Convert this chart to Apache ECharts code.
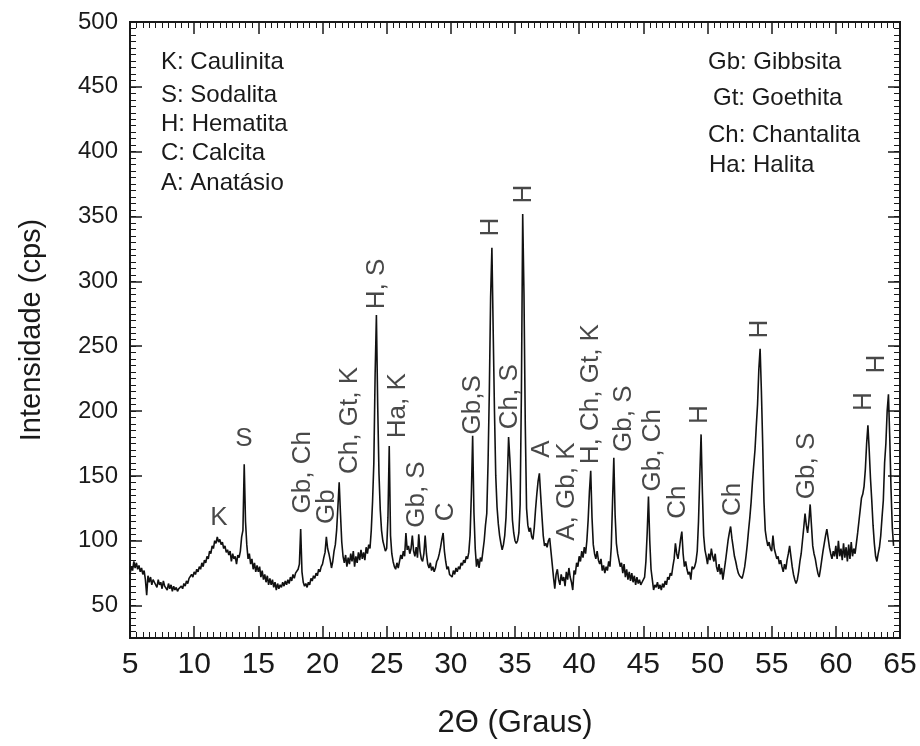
<!DOCTYPE html>
<html>
<head>
<meta charset="utf-8">
<script src="https://cdn.jsdelivr.net/npm/echarts@6/dist/echarts.min.js"></script>
<style>
  html, body { margin: 0; padding: 0; background: #ffffff; }
  #chart { width: 920px; height: 746px; }
</style>
</head>
<body>
<div id="chart"></div>
<script>
// X-ray diffraction pattern, sampled every 0.1 degree (2-theta) from 5.0
const angleStart = 5.0;
const angleStep = 0.1;

// Intensity (cps); one row per degree of 2-theta
const intensity = [
  74, 80, 77, 84, 79, 83, 78, 81, 76, 79,          // 5
  74, 77, 70, 58, 73, 68, 72, 66, 70, 68,          // 6
  69, 64, 70, 66, 68, 63, 69, 65, 66, 62,          // 7
  67, 63, 66, 61, 65, 62, 64, 61, 63, 62,          // 8
  65, 63, 67, 65, 69, 67, 71, 70, 74, 72,          // 9
  76, 74, 78, 76, 80, 78, 83, 80, 85, 83,          // 10
  88, 86, 92, 90, 96, 94, 100, 98, 103, 99,        // 11
  101, 97, 99, 94, 96, 91, 93, 89, 92, 84,         // 12
  90, 86, 88, 82, 89, 87, 92, 103, 108, 159,       // 13
  115, 97, 86, 90, 82, 86, 78, 83, 76, 81,         // 14
  76, 80, 72, 77, 70, 74, 68, 73, 66, 71,          // 15
  66, 70, 64, 68, 62, 67, 63, 66, 64, 68,          // 16
  65, 69, 66, 70, 67, 72, 69, 74, 71, 75,          // 17
  74, 78, 82, 109, 76, 68, 65, 67, 64, 68,         // 18
  66, 71, 69, 73, 71, 75, 73, 78, 76, 80,          // 19
  82, 87, 91, 103, 94, 90, 85, 79, 84, 92,         // 20
  97, 108, 126, 145, 121, 99, 88, 83, 89, 80,      // 21
  87, 82, 90, 84, 92, 80, 88, 83, 91, 85,          // 22
  93, 86, 91, 85, 95, 90, 97, 94, 108, 130,        // 23
  160, 228, 274, 205, 152, 124, 108, 100, 96, 92,  // 24
  94, 118, 173, 104, 90, 84, 80, 78, 83, 79,       // 25
  84, 89, 86, 92, 88, 106, 93, 96, 90, 94,         // 26
  104, 92, 88, 95, 87, 105, 92, 86, 84, 90,        // 27
  104, 90, 82, 79, 83, 77, 80, 76, 79, 84,         // 28
  86, 90, 95, 101, 106, 92, 84, 78, 80, 74,        // 29
  75, 72, 77, 74, 79, 76, 80, 78, 83, 81,          // 30
  85, 83, 88, 86, 91, 104, 136, 181, 122, 94,      // 31
  80, 86, 79, 87, 84, 92, 100, 112, 121, 160,      // 32
  215, 288, 326, 262, 200, 150, 126, 113, 104, 98, // 33
  93, 97, 104, 118, 146, 180, 163, 142, 116, 106,  // 34
  100, 98, 100, 106, 128, 215, 352, 290, 190, 125, // 35
  112, 107, 110, 103, 101, 110, 124, 136, 146, 152,// 36
  135, 119, 104, 96, 98, 95, 100, 102, 92, 82,     // 37
  72, 63, 74, 78, 70, 66, 74, 69, 72, 65,          // 38
  76, 70, 79, 72, 68, 62, 77, 74, 83, 80,          // 39
  88, 84, 92, 87, 95, 90, 100, 116, 138, 154,      // 40
  118, 97, 90, 86, 92, 85, 82, 86, 77, 81,         // 41
  75, 80, 77, 84, 80, 95, 130, 164, 120, 98,       // 42
  90, 85, 80, 83, 75, 82, 72, 78, 70, 76,          // 43
  69, 75, 68, 73, 66, 72, 67, 70, 66, 68,          // 44
  68, 72, 84, 106, 134, 100, 78, 70, 62, 66,       // 45
  64, 68, 63, 66, 62, 67, 64, 69, 66, 72,          // 46
  70, 75, 73, 80, 86, 98, 90, 86, 93, 101,         // 47
  107, 90, 80, 84, 78, 74, 76, 70, 80, 78,         // 48
  80, 84, 92, 115, 150, 182, 138, 104, 93, 88,     // 49
  82, 90, 85, 94, 88, 84, 90, 80, 76, 82,          // 50
  74, 79, 70, 77, 84, 92, 100, 106, 111, 102,      // 51
  95, 88, 84, 79, 75, 73, 72, 71, 75, 80,          // 52
  88, 97, 108, 118, 130, 145, 158, 170, 188, 205,  // 53
  232, 248, 215, 175, 130, 108, 101, 96, 99, 94,   // 54
  92, 104, 94, 90, 86, 88, 82, 85, 80, 76,         // 55
  82, 78, 85, 90, 96, 88, 80, 74, 70, 67,          // 56
  70, 76, 84, 90, 100, 110, 121, 112, 106, 115,    // 57
  128, 112, 96, 90, 86, 80, 75, 72, 78, 85,        // 58
  92, 98, 104, 109, 102, 95, 90, 86, 92, 88,       // 59
  96, 86, 100, 88, 94, 85, 98, 87, 95, 84,         // 60
  97, 86, 99, 88, 94, 90, 98, 106, 115, 124,       // 61
  133, 136, 142, 155, 175, 189, 170, 148, 131, 112,// 62
  98, 88, 84, 90, 95, 104, 118, 131, 160, 175,     // 63
  200, 213, 180, 140, 110, 96                      // 64
];

// Axis ticks
const xTicks = [5, 10, 15, 20, 25, 30, 35, 40, 45, 50, 55, 60, 65];
const yTicks = [50, 100, 150, 200, 250, 300, 350, 400, 450, 500];

// Phase key
const phaseKeyLeft = ['K: Caulinita', 'S: Sodalita', 'H: Hematita', 'C: Calcita', 'A: Anatásio'];
const phaseKeyRight = ['Gb: Gibbsita', 'Gt: Goethita', 'Ch: Chantalita', 'Ha: Halita'];

// Peak identifications: [text, 2-theta, intensity at the start of the text, rotation]
const peakLabels = [
  ['K', 11.93, 117.7, 0],
  ['S', 13.88, 178.5, 0],
  ['Gb, Ch', 18.48, 121, 90],
  ['Gb', 20.35, 113, 90],
  ['Ch, Gt, K', 22.14, 151.5, 90],
  ['H, S', 24.25, 278.5, 90],
  ['Ha, K', 25.9, 179, 90],
  ['Gb, S', 27.36, 110, 90],
  ['C', 29.6, 115, 90],
  ['Gb,S', 31.73, 182, 90],
  ['H', 33.1, 334.6, 90],
  ['Ch, S', 34.6, 186, 90],
  ['H', 35.7, 360, 90],
  ['A', 37.1, 164, 90],
  ['A, Gb, K', 39.05, 100, 90],
  ['H, Ch, Gt, K', 40.92, 159, 90],
  ['Gb, S', 43.45, 168.5, 90],
  ['Gb, Ch', 45.75, 138, 90],
  ['Ch', 47.7, 117, 90],
  ['H', 49.4, 190, 90],
  ['Ch', 52.0, 119, 90],
  ['H', 54.1, 256, 90],
  ['Gb, S', 57.75, 132, 90],
  ['H', 62.2, 200, 90],
  ['H', 63.2, 229, 90]
];

const font = "'Liberation Sans', Arial, Helvetica, sans-serif";
const ink = '#1a1a1a';

const pattern = intensity.map((v, i) => [Number((angleStart + i * angleStep).toFixed(1)), v]);

function xAxisDef(pos, withLabels) {
  return {
    type: 'value', min: xTicks[0], max: xTicks[xTicks.length - 1], interval: 5,
    position: pos,
    axisLine: { show: true, onZero: false, lineStyle: { color: ink, width: 2 } },
    axisTick: { show: true, inside: true, length: 12, lineStyle: { color: ink, width: 1.5 } },
    minorTick: { show: true, splitNumber: 10, length: 6, lineStyle: { color: ink, width: 1 } },
    splitLine: { show: false },
    minorSplitLine: { show: false },
    axisLabel: { show: withLabels, fontSize: 30, color: ink, margin: 12, fontFamily: font },
    name: withLabels ? '2Θ (Graus)' : '',
    nameLocation: 'middle',
    nameGap: 70,
    nameTextStyle: { fontSize: 31, color: ink, fontFamily: font }
  };
}

function yMajor(pos, withLabels) {
  return {
    type: 'value', min: 25, max: 500, position: pos,
    axisLine: { show: true, onZero: false, lineStyle: { color: ink, width: 2 } },
    axisTick: { show: true, inside: true, length: 12, customValues: yTicks, lineStyle: { color: ink, width: 1.5 } },
    axisLabel: { show: withLabels, customValues: yTicks, fontSize: 24, color: ink, margin: 12, fontFamily: font },
    splitLine: { show: false },
    name: withLabels ? 'Intensidade (cps)' : '',
    nameLocation: 'middle',
    nameRotate: 90,
    nameGap: 84,
    nameTextStyle: { fontSize: 29, color: ink, fontFamily: font }
  };
}

function yMinor(pos) {
  return {
    type: 'value', min: 25, max: 500, interval: 5, position: pos,
    axisLine: { show: false },
    axisTick: { show: true, inside: true, length: 6, lineStyle: { color: ink, width: 1 } },
    axisLabel: { show: false },
    splitLine: { show: false }
  };
}

const keyGraphics = [];
const leftKeyY = [62, 95, 124, 153, 183];
phaseKeyLeft.forEach((t, i) => {
  keyGraphics.push({
    type: 'text', x: 161, y: leftKeyY[i], silent: true,
    style: { text: t, fontSize: 24, fontFamily: font, fill: ink, align: 'left', verticalAlign: 'middle' }
  });
});
const rightKeyX = [708, 713, 708, 709];
const rightKeyY = [62, 98, 135, 165];
phaseKeyRight.forEach((t, i) => {
  keyGraphics.push({
    type: 'text', x: rightKeyX[i], y: rightKeyY[i], silent: true,
    style: { text: t, fontSize: 24, fontFamily: font, fill: ink, align: 'left', verticalAlign: 'middle' }
  });
});

const chart = echarts.init(document.getElementById('chart'), null, { renderer: 'canvas' });
chart.setOption({
  animation: false,
  backgroundColor: '#ffffff',
  grid: { left: 130, right: 20, top: 22, bottom: 108, show: true, borderColor: ink, borderWidth: 2, backgroundColor: 'transparent' },
  xAxis: [xAxisDef('bottom', true), xAxisDef('top', false)],
  yAxis: [yMajor('left', true), yMinor('left'), yMajor('right', false), yMinor('right')],
  series: [
    {
      type: 'line',
      data: pattern,
      xAxisIndex: 0, yAxisIndex: 0,
      symbol: 'none', showSymbol: false,
      silent: true,
      lineStyle: { color: '#111111', width: 1.6 },
      z: 3
    },
    {
      type: 'scatter',
      xAxisIndex: 0, yAxisIndex: 0,
      symbolSize: 0,
      silent: true,
      data: peakLabels.map(([t, a, v, r]) => ({
        name: t, value: [a, v],
        label: { rotate: r, align: r ? 'left' : 'center' }
      })),
      label: {
        show: true, position: 'inside', formatter: '{b}',
        fontSize: 26, color: ink, fontFamily: font, verticalAlign: 'middle'
      },
      z: 4
    }
  ],
  graphic: keyGraphics
});
</script>
</body>
</html>
